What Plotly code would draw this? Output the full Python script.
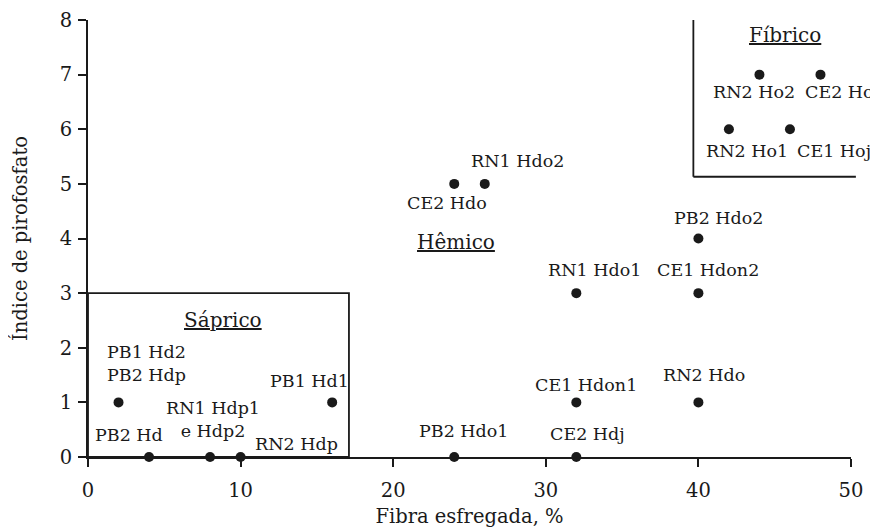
import plotly.graph_objects as go

# ---- data ----
labels = ["PB1 Hd2<br>PB2 Hdp", "PB2 Hd", "RN1 Hdp1<br>e Hdp2", "RN2 Hdp", "PB1 Hd1",
          "PB2 Hdo1", "CE2 Hdo", "RN1 Hdo2", "RN1 Hdo1", "CE1 Hdon1", "CE2 Hdj",
          "PB2 Hdo2", "CE1 Hdon2", "RN2 Hdo", "RN2 Ho2", "CE2 Ho", "RN2 Ho1", "CE1 Hoj"]
fibra = [2, 4, 8, 10, 16, 24, 24, 26, 32, 32, 32, 40, 40, 40, 44, 48, 42, 46]
indice = [1, 0, 0, 0, 1, 0, 5, 5, 3, 1, 0, 4, 3, 1, 7, 7, 6, 6]

x_ticks = [0, 10, 20, 30, 40, 50]
y_ticks = [0, 1, 2, 3, 4, 5, 6, 7, 8]

# class regions
region_names = ["<u>Sáprico</u>", "<u>Hêmico</u>", "<u>Fíbrico</u>"]
region_x = [8.82, 24.09, 45.68]
region_y = [2.50, 3.93, 7.72]
saprico_xmax, saprico_ymax = 17.1, 3
fibrico_xmin, fibrico_ymin, fibrico_xend = 39.67, 5.13, 50.32

# ---- label placement (pixel offsets from each point) ----
label_dx = [28, -20, 3, 56, -23, 9, -7, 33, 18, 10, 11, 20, 10, 6, -5, 19, 18, 44]
label_dy = [39, 22, 38, 13, 21, 26, -19, 23, 23, 17, 23, 21, 23, 27, -17, -17, -22, -22]

XMIN, XMAX = 0, 50
YMIN, YMAX = 0, 8
INK = "#1a1a1a"
FONT = "DejaVu Serif"

fig = go.Figure()
fig.add_trace(go.Scatter(
    x=fibra, y=indice, mode="markers",
    marker=dict(size=10, color=INK),
    cliponaxis=False, showlegend=False, hoverinfo="skip"))

for t, x, y, dx, dy in zip(labels, fibra, indice, label_dx, label_dy):
    fig.add_annotation(x=x, y=y, text=t, showarrow=False, xanchor="center", yanchor="middle",
                       xshift=dx, yshift=dy, font=dict(family=FONT, size=17.5, color=INK),
                       align="center")

for t, x, y in zip(region_names, region_x, region_y):
    fig.add_annotation(x=x, y=y, text=t, showarrow=False, xanchor="center", yanchor="middle",
                       font=dict(family=FONT, size=20, color=INK))

# Sáprico box
fig.add_shape(type="rect", xref="x", yref="y", x0=XMIN, y0=YMIN, x1=saprico_xmax, y1=saprico_ymax,
              line=dict(color=INK, width=1.8))

# Fíbrico corner (paper coords so the line may run slightly past the axis end)
def px(v):
    return (v - XMIN) / (XMAX - XMIN)

def py(v):
    return (v - YMIN) / (YMAX - YMIN)

fig.add_shape(type="line", xref="paper", yref="paper",
              x0=px(fibrico_xmin), y0=py(YMAX), x1=px(fibrico_xmin), y1=py(fibrico_ymin),
              line=dict(color=INK, width=1.8))
fig.add_shape(type="line", xref="paper", yref="paper",
              x0=px(fibrico_xmin), y0=py(fibrico_ymin), x1=px(fibrico_xend), y1=py(fibrico_ymin),
              line=dict(color=INK, width=1.8))

axis_common = dict(showgrid=False, zeroline=False, showline=True, linecolor=INK, linewidth=2,
                   ticks="outside", ticklen=8, tickwidth=2, tickcolor=INK, automargin=False,
                   tickfont=dict(family=FONT, size=19.5, color=INK))

fig.update_xaxes(range=[XMIN, XMAX], tickvals=x_ticks, ticktext=[str(v) for v in x_ticks],
                 title=dict(text="Fibra esfregada, %", font=dict(family=FONT, size=19.5, color=INK),
                            standoff=10),
                 ticklabelstandoff=7, **axis_common)
fig.update_yaxes(range=[YMIN, YMAX], tickvals=y_ticks, ticktext=[str(v) for v in y_ticks],
                 title=dict(text="Índice de pirofosfato", font=dict(family=FONT, size=19.5, color=INK),
                            standoff=27),
                 ticklabelstandoff=2, **axis_common)

# page body adds an 8px offset, so the figure is 8px smaller and margins compensate
fig.update_layout(width=870, height=520, margin=dict(l=80, r=27, t=12, b=71),
                  plot_bgcolor="white", paper_bgcolor="white",
                  font=dict(family=FONT, color=INK))

fig.write_html("out.html")
